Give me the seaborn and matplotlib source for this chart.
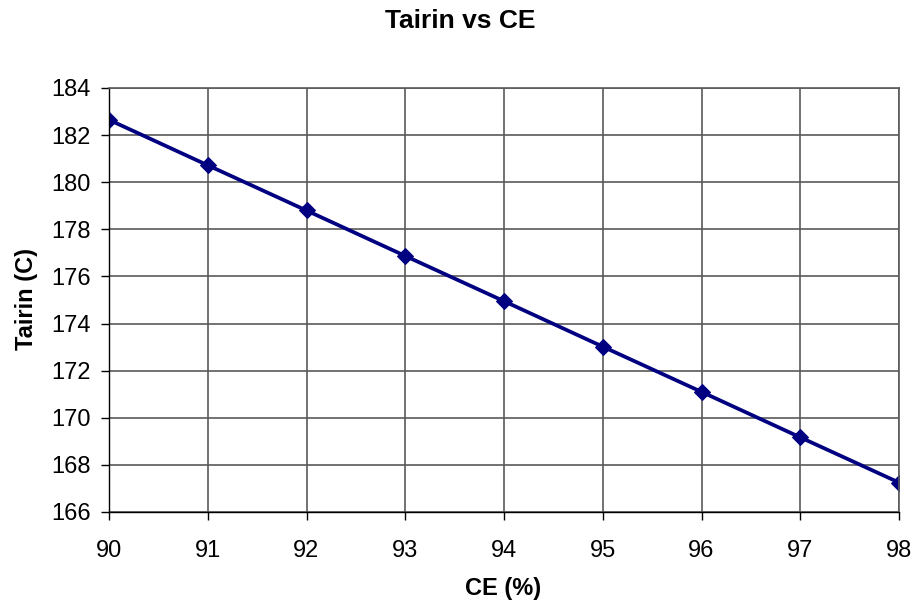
import pandas as pd
import matplotlib
matplotlib.use("Agg")
import matplotlib.pyplot as plt
import seaborn as sns

# values
ce = [90, 91, 92, 93, 94, 95, 96, 97, 98]
tairin = [182.65, 180.72, 178.80, 176.87, 174.95, 173.02, 171.10, 169.17, 167.25]
y_ticks = [166, 168, 170, 172, 174, 176, 178, 180, 182, 184]

df = pd.DataFrame({"CE": ce, "Tairin": tairin})

sns.set_style("white")
plt.rcParams["font.family"] = ["Liberation Sans", "DejaVu Sans"]
plt.rcParams["text.color"] = "black"
plt.rcParams["xtick.color"] = "black"
plt.rcParams["ytick.color"] = "black"

fig = plt.figure(figsize=(9.17, 6.06), dpi=100)
ax = fig.add_axes([109 / 917, 1 - 512 / 606, (899 - 109) / 917, (512 - 88) / 606])

sns.lineplot(data=df, x="CE", y="Tairin", ax=ax, color="#000080", linewidth=2.7,
             marker="D", markersize=8, markeredgecolor="#000080")

ax.set_xlim(90, 98)
ax.set_ylim(166, 184)
ax.set_xticks(ce)
ax.set_yticks(y_ticks)
ax.grid(True, color="#5a5a5a", linewidth=1.2)
ax.tick_params(axis="both", labelsize=17, length=6, width=1, color="black",
               labelcolor="black", direction="out", bottom=True, left=True)
ax.tick_params(axis="x", pad=14)
ax.tick_params(axis="y", pad=7)
for side in ["left", "bottom"]:
    ax.spines[side].set_color("black")
    ax.spines[side].set_linewidth(1.0)
for side in ["top", "right"]:
    ax.spines[side].set_color("#5a5a5a")
    ax.spines[side].set_linewidth(1.2)

ax.set_xlabel("")
ax.set_ylabel("")
fig.text(503 / 917, 1 - 588 / 606, "CE (%)", ha="center", va="center",
         fontsize=17, fontweight="bold", color="black")
fig.text(26 / 917, 1 - 299 / 606, "Tairin (C)", ha="center", va="center",
         rotation=90, fontsize=17, fontweight="bold", color="black")
fig.text(460 / 917, 1 - 21 / 606, "Tairin vs CE", ha="center", va="center",
         fontsize=19, fontweight="bold", color="black")

plt.savefig("out.png", dpi=100)
